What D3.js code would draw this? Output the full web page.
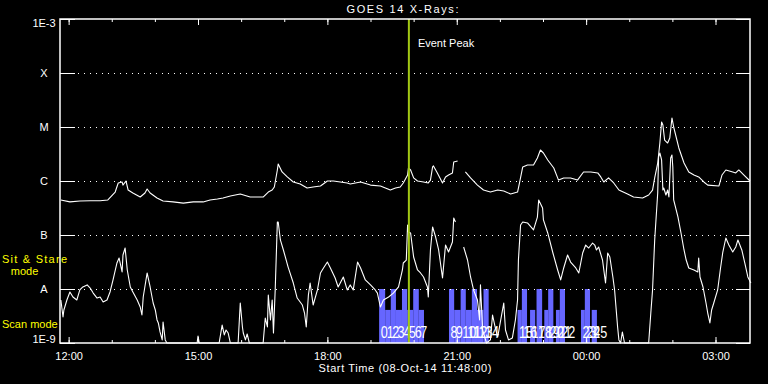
<!DOCTYPE html>
<html>
<head>
<meta charset="utf-8">
<script src="https://cdn.jsdelivr.net/npm/d3@7"></script>
<style>
html, body { margin: 0; padding: 0; background: #000; }
svg { display: block; }
text { font-family: "Liberation Sans", Arial, sans-serif; }
</style>
</head>
<body>
<svg id="chart" width="768" height="384"></svg>
<script>
// times are hours UT counted from 08-Oct-14 00:00, flux in W/m^2
var longTime = [
  11.82,12.03,12.26,12.50,12.73,12.91,13.08,13.15,13.24,13.26,
  13.33,13.38,13.49,13.66,13.77,13.82,13.89,14.05,14.19,14.42,
  14.66,14.89,15.12,15.28,15.45,15.58,15.75,15.98,16.21,16.37,
  16.51,16.63,16.72,16.77,16.84,16.86,16.95,17.07,17.21,17.37,
  17.53,17.67,17.84,18.00,18.14,18.30,18.46,18.53,18.77,19.00,
  19.23,19.46,19.58,19.69,19.76,19.86,19.88,19.93,20.00,20.09,
  20.23,20.34,20.39,20.44,20.46,20.55,20.67,20.74,20.81,20.90,
  20.93,21.02,21.10,
  21.20,21.32,21.48,21.62,21.78,21.95,22.09,
  22.25,22.41,22.46,22.53,22.64,22.78,22.87,22.94,23.01,23.11,
  23.25,23.36,23.48,23.64,23.80,23.94,24.11,24.27,24.34,24.41,
  24.52,24.64,24.76,24.96,25.10,25.31,25.45,25.54,25.59,25.66,
  25.71,25.75,25.78,25.82,25.89,25.94,25.99,26.03,26.15,26.27,
  26.38,26.50,26.61,26.73,26.82,27.08,27.15,27.24,27.40,27.47,
  27.54,27.66,27.80
];
var longFlux = [
  4.45e-7,4.1e-7,4.26e-7,4.3e-7,4.3e-7,4.45e-7,6.25e-7,9.18e-7,9.6e-7,8.4e-7,
  1.0e-6,6.8e-7,6.0e-7,5.05e-7,6.0e-7,7.1e-7,6.0e-7,4.84e-7,4.26e-7,4.1e-7,
  3.9e-7,4.1e-7,4.1e-7,4.45e-7,4.64e-7,4.84e-7,5.28e-7,5.74e-7,5.05e-7,5.05e-7,
  5.05e-7,6.25e-7,6.8e-7,7.74e-7,1.6e-6,2.07e-6,1.47e-6,1.19e-6,9.6e-7,8.8e-7,
  7.4e-7,7.74e-7,8.1e-7,1.0e-6,1.0e-6,9.6e-7,9.2e-7,8.8e-7,9.6e-7,8.4e-7,
  8.1e-7,6.8e-7,7.4e-7,7.74e-7,9.2e-7,1.29e-6,1.74e-6,1.6e-6,1.14e-6,1.0e-6,
  9.6e-7,9.2e-7,1.04e-6,1.82e-6,1.9e-6,1.41e-6,9.2e-7,1.19e-6,1.29e-6,1.41e-6,
  2.25e-6,2.35e-6,null,
  1.47e-6,1.14e-6,8.4e-7,6.8e-7,6.25e-7,6.8e-7,6.52e-7,
  5.74e-7,6.25e-7,9.6e-7,1.82e-6,1.98e-6,1.98e-6,2.67e-6,3.75e-6,3.3e-6,2.45e-6,
  1.74e-6,1.04e-6,1.14e-6,1.14e-6,1.04e-6,1.47e-6,1.47e-6,1.41e-6,1.19e-6,9.6e-7,
  1.14e-6,9.2e-7,6.8e-7,5.74e-7,5.05e-7,4.84e-7,5.5e-7,6.8e-7,1.14e-6,2.15e-6,
  5.05e-6,1.24e-5,1.09e-5,5.74e-6,5.05e-6,6.25e-6,1.47e-5,1.0e-5,4.09e-6,2.15e-6,
  1.47e-6,1.29e-6,1.19e-6,9.6e-7,8.4e-7,8.1e-7,1.29e-6,1.6e-6,1.47e-6,1.41e-6,
  1.6e-6,1.29e-6,1.0e-6
];
var shortTime = [
  11.82,11.87,11.89,11.96,12.03,12.10,12.19,12.26,12.33,12.43,
  12.50,12.57,12.66,12.73,12.80,12.89,12.96,13.03,13.12,13.17,
  13.24,13.26,13.31,13.36,13.43,13.49,13.59,13.66,13.70,13.73,
  13.82,13.89,13.96,14.01,14.05,14.08,14.12,14.17,14.19,14.24,
  14.28,14.35,14.98,15.00,15.03,15.49,15.56,15.61,15.65,15.70,
  15.75,15.93,15.98,16.03,16.05,16.10,16.14,16.19,16.51,16.56,
  16.61,16.63,16.68,16.72,16.75,16.79,16.84,16.86,16.91,16.98,
  17.09,17.21,17.30,17.42,17.47,17.51,17.56,17.60,17.67,17.77,
  17.84,17.91,18.00,18.07,18.18,18.25,18.37,18.46,18.53,18.60,
  18.70,18.77,18.88,19.00,19.11,19.16,19.23,19.30,19.42,19.53,
  19.65,19.74,19.76,19.83,19.86,19.88,19.93,20.00,20.09,20.16,
  20.23,20.32,20.34,20.39,20.44,20.51,20.58,20.67,20.74,20.81,
  20.90,20.93,20.97,21.10,21.16,21.25,21.32,21.39,21.48,21.53,
  21.55,21.60,21.69,21.78,21.83,21.88,21.95,22.02,22.09,22.13,
  22.20,22.29,22.36,22.41,22.43,22.48,22.53,22.64,22.78,22.87,
  22.90,22.99,23.01,23.11,23.23,23.34,23.41,23.48,23.57,23.64,
  23.76,23.83,23.92,23.99,24.06,24.15,24.20,24.24,24.29,24.38,
  24.45,24.50,24.55,24.62,24.66,24.73,24.76,24.80,24.84,24.89,
  25.45,25.50,25.54,25.59,25.66,25.68,25.71,25.75,25.78,25.80,
  25.85,25.89,25.92,25.96,25.99,26.01,26.03,26.13,26.20,26.27,
  26.32,26.38,26.50,26.59,26.61,26.64,26.71,26.78,26.82,26.87,
  26.91,26.96,27.05,27.12,27.17,27.24,27.31,27.40,27.47,27.52,
  27.61,27.68,27.75,27.82
];
var shortFlux = [
  6.25e-9,3.03e-9,4.09e-9,6.25e-9,8.8e-9,7.1e-9,6.25e-9,9.6e-9,1.09e-8,1.19e-8,
  1.04e-8,8.4e-9,6.8e-9,7.1e-9,5.74e-9,6.25e-9,8.8e-9,1.47e-8,3.03e-8,3.75e-8,
  2.07e-8,4.26e-8,5.74e-8,2.25e-8,1.09e-8,8.8e-9,6.25e-9,4.64e-9,3.3e-9,7.1e-9,
  1.98e-8,1.09e-8,5.5e-9,4.09e-9,2.67e-9,2.35e-9,1.6e-9,1.14e-9,2.45e-9,1.14e-9,
  1.0e-9,8e-10,8e-10,1.35e-9,8e-10,8e-10,2.15e-9,1.41e-9,1.74e-9,1.53e-9,
  8e-10,8e-10,5.5e-9,1.98e-9,1.53e-9,1.14e-9,1.47e-9,8e-10,8e-10,2.9e-9,
  1.98e-9,7.74e-9,2.67e-9,6.25e-9,1.53e-9,9.6e-9,1.74e-7,1.74e-7,8.1e-8,5.28e-8,
  2.55e-8,1.29e-8,6.8e-9,5.05e-9,3.59e-9,1.98e-9,7.74e-9,1.29e-8,5.05e-9,9.6e-9,
  1.98e-8,2.45e-8,3.16e-8,2.45e-8,1.6e-8,1.09e-8,1.67e-8,9.6e-9,1.19e-8,9.6e-9,
  3.16e-8,2.45e-8,1.47e-8,1.19e-8,9.6e-9,8.4e-9,4.64e-9,6.25e-9,7.1e-9,8.4e-9,
  1.09e-8,2.25e-8,3.03e-8,3.44e-8,1.53e-7,1.14e-7,1.09e-7,3.91e-8,2.25e-8,1.98e-8,
  1.67e-8,1.09e-8,7.1e-9,5.28e-8,1.41e-7,9.18e-8,5.28e-8,1.6e-8,6.52e-8,4.84e-8,
  7.42e-8,2.07e-7,1.74e-7,null,5.99e-8,3.44e-8,1.67e-8,9.6e-9,6.25e-9,2.67e-9,
  1.19e-8,1.74e-9,8e-10,1.14e-9,3.3e-9,2.15e-9,1.29e-9,2.67e-9,5.5e-9,1.74e-9,
  1.14e-9,1.24e-9,2.67e-9,6.25e-9,3.44e-8,1.53e-7,1.74e-7,1.67e-7,1.24e-7,2.15e-7,
  4.45e-7,3.16e-7,1.9e-7,1.09e-7,4.64e-8,2.25e-8,1.47e-8,2.45e-8,4.26e-8,3.16e-8,
  2.45e-8,1.98e-8,4.64e-8,6.52e-8,5.74e-8,7.1e-8,6.52e-8,5.28e-8,5.99e-8,3.44e-8,
  1.29e-8,4.64e-8,3.91e-8,1.67e-8,9.6e-9,1.98e-9,1.14e-9,8e-10,1.6e-9,8e-10,
  8e-10,3.59e-9,9.6e-9,8.1e-8,5.99e-7,2.78e-6,3.3e-6,2.45e-6,6.81e-7,7.42e-7,
  5.5e-7,6.81e-7,5.05e-7,2.67e-6,3.03e-6,1.82e-6,4.45e-7,2.15e-7,1.09e-7,5.28e-8,
  3.44e-8,2.45e-8,2.25e-8,2.07e-8,3.75e-8,1.67e-8,1.09e-8,5.5e-9,3.59e-9,2.35e-9,
  4.09e-9,5.5e-9,9.6e-9,2.55e-8,4.84e-8,8.8e-8,6.52e-8,4.84e-8,5.99e-8,8.1e-8,
  5.28e-8,3.03e-8,1.67e-8,1.29e-8
];

// observation blocks (numbered 0..25)
var barStart = [19.20,19.34,19.47,19.59,19.73,19.85,19.99,20.12,
                20.82,20.94,21.09,21.21,21.35,21.47,21.62,
                22.41,22.51,22.70,22.85,23.03,23.12,23.30,23.39,
                23.88,23.97,24.13];
var barEnd   = [19.34,19.47,19.59,19.73,19.85,19.99,20.12,20.24,
                20.94,21.09,21.21,21.35,21.47,21.62,21.74,
                22.51,22.63,22.82,22.98,23.12,23.24,23.39,23.51,
                23.97,24.09,24.25];
var barMode  = ["stare","scan","stare","scan","stare","scan","stare","scan",
                "stare","scan","stare","scan","stare","scan","stare",
                "scan","stare","scan","stare","scan","stare","scan","stare",
                "scan","stare","scan"];

var levelValues = [1e-9, 1e-8, 1e-7, 1e-6, 1e-5, 1e-4, 1e-3];
var levelLabels = ["1E-9", "A", "B", "C", "M", "X", "1E-3"];
var eventPeak = 19.89;
var startHour = 11.8, endHour = 27.8;

var day0 = Date.UTC(2014, 9, 8);
function toDate(h) { return new Date(day0 + h * 3600e3); }

var svg = d3.select("#chart");
svg.append("rect").attr("width", 768).attr("height", 384).attr("fill", "#000");

var x = d3.scaleUtc()
    .domain([toDate(startHour), toDate(endHour)])
    .range([60, 750]);
var y = d3.scaleLog()
    .domain([1e-9, 1e-3])
    .range([343, 19])
    .clamp(true);

// bar tops for the two modes
var modeTop = {stare: 1e-8, scan: 4.1e-9};

var plot = svg.append("g");

// mode bars
var bars = d3.range(barStart.length).map(function(i) {
    return {id: i, t0: barStart[i], t1: barEnd[i], mode: barMode[i]};
});
plot.selectAll("rect.bar")
    .data(bars)
    .enter().append("rect")
    .attr("class", "bar")
    .attr("x", d => x(toDate(d.t0)))
    .attr("width", d => x(toDate(d.t1)) - x(toDate(d.t0)))
    .attr("y", d => y(modeTop[d.mode]))
    .attr("height", d => y(1e-9) - y(modeTop[d.mode]))
    .attr("fill", "#6666ff");

// dotted level lines
svg.append("g").selectAll("line")
    .data(levelValues.slice(1, -1))
    .enter().append("line")
    .attr("x1", 78).attr("x2", 736)
    .attr("y1", d => Math.round(y(d)) + 0.5)
    .attr("y2", d => Math.round(y(d)) + 0.5)
    .attr("stroke", "#fff")
    .attr("stroke-dasharray", "1,5");

// flux curves
var line = d3.line()
    .defined(d => d[1] != null)
    .x(d => x(toDate(d[0])))
    .y(d => y(d[1]));
var longData = longTime.map((t, i) => [t, longFlux[i]]);
var shortData = shortTime.map((t, i) => [t, shortFlux[i]]);
[longData, shortData].forEach(function(data) {
    svg.append("path")
        .datum(data)
        .attr("d", line)
        .attr("fill", "none")
        .attr("stroke", "#fff")
        .attr("stroke-width", 1.1)
        .attr("stroke-linejoin", "round");
});

// bar numbers
svg.append("g").selectAll("text")
    .data(bars)
    .enter().append("text")
    .attr("x", d => x(toDate(d.t0)) + 1.5)
    .attr("y", 338)
    .attr("fill", "#fff")
    .attr("font-size", 16)
    .attr("textLength", d => String(d.id).length * 7)
    .attr("lengthAdjust", "spacingAndGlyphs")
    .text(d => d.id);

// event peak marker
var xp = x(toDate(eventPeak));
svg.append("line")
    .attr("x1", xp).attr("x2", xp)
    .attr("y1", 19).attr("y2", 343)
    .attr("stroke", "#a2c814")
    .attr("stroke-width", 2);
svg.append("text")
    .attr("x", xp + 9).attr("y", 47)
    .attr("fill", "#fff").attr("font-size", 11)
    .text("Event Peak");

// frame
svg.append("rect")
    .attr("x", 60).attr("y", 19)
    .attr("width", 690).attr("height", 324)
    .attr("fill", "none")
    .attr("stroke", "#fff")
    .attr("stroke-width", 1.5);

// time ticks, top and bottom, pointing inward
var hours = d3.utcHour.range(x.domain()[0], x.domain()[1]);
var majors = hours.filter(d => d.getUTCHours() % 3 === 0);

function tickAxis(axis, ty, values, size, fmt) {
    var g = svg.append("g")
        .attr("transform", "translate(0," + ty + ")")
        .attr("color", "#fff")
        .call(axis(x).tickValues(values).tickSize(size).tickSizeOuter(0).tickPadding(9).tickFormat(fmt));
    g.select(".domain").remove();
    return g;
}
tickAxis(d3.axisTop, 19, hours, -3, "");
tickAxis(d3.axisTop, 19, majors, -6, "");
tickAxis(d3.axisBottom, 343, hours, -3, "");
var xb = tickAxis(d3.axisBottom, 343, majors, -6, d3.utcFormat("%H:%M"));
xb.selectAll("text")
    .attr("font-family", "Liberation Sans, Arial, sans-serif")
    .attr("font-size", 11);

// level ticks and labels
var yl = svg.append("g")
    .attr("transform", "translate(60,0)")
    .attr("color", "#fff")
    .call(d3.axisLeft(y).tickValues(levelValues).tickSize(-15).tickSizeOuter(0)
        .tickFormat((d, i) => levelLabels[i]));
yl.select(".domain").remove();
yl.selectAll("text")
    .attr("x", -16)
    .attr("text-anchor", "middle")
    .attr("font-family", "Liberation Sans, Arial, sans-serif")
    .attr("font-size", 11)
    .attr("dy", (d, i) => i === 0 ? "-0.05em" : (i === levelValues.length - 1 ? "0.72em" : "0.32em"));
var yr = svg.append("g")
    .attr("transform", "translate(750,0)")
    .attr("color", "#fff")
    .call(d3.axisRight(y).tickValues(levelValues).tickSize(-14).tickSizeOuter(0).tickFormat(""));
yr.select(".domain").remove();

// titles
svg.append("text")
    .attr("x", 402.5).attr("y", 13)
    .attr("text-anchor", "middle")
    .attr("fill", "#fff").attr("font-size", 11)
    .attr("textLength", 112).attr("lengthAdjust", "spacing")
    .text("GOES 14 X-Rays:");
svg.append("text")
    .attr("x", 405).attr("y", 372)
    .attr("text-anchor", "middle")
    .attr("fill", "#fff").attr("font-size", 11)
    .attr("textLength", 173).attr("lengthAdjust", "spacing")
    .text("Start Time (08-Oct-14 11:48:00)");

// mode captions
var yellow = "#ffff00";
svg.append("text").attr("x", 2).attr("y", 263)
    .attr("fill", yellow).attr("font-size", 11)
    .attr("textLength", 65).attr("lengthAdjust", "spacing")
    .text("Sit & Stare");
svg.append("text").attr("x", 24.5).attr("y", 275)
    .attr("text-anchor", "middle")
    .attr("fill", yellow).attr("font-size", 11)
    .text("mode");
svg.append("text").attr("x", 2).attr("y", 328)
    .attr("fill", yellow).attr("font-size", 11)
    .text("Scan mode");
</script>
</body>
</html>
